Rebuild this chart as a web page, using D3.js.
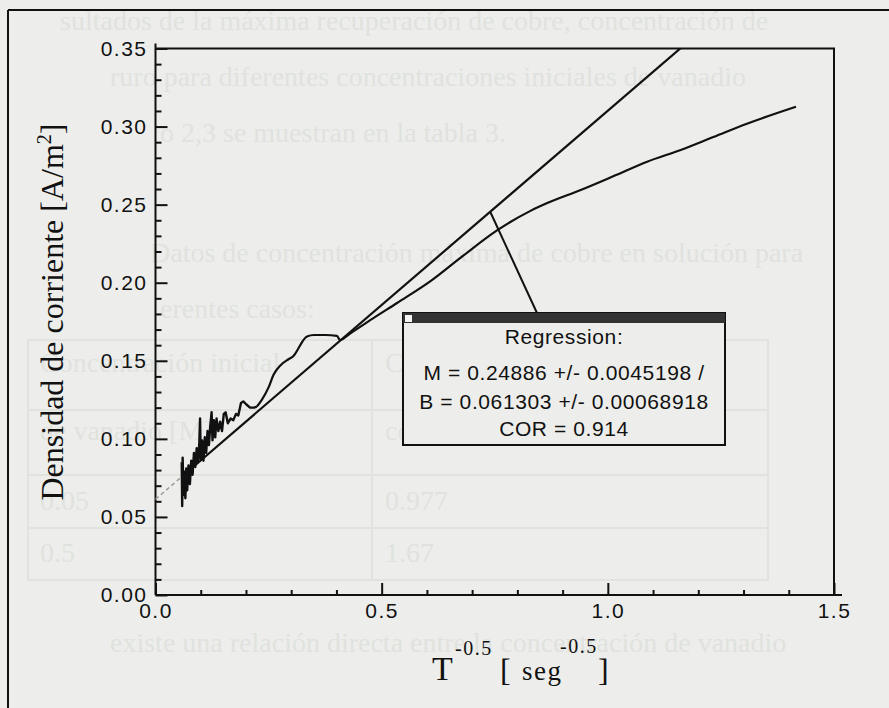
<!DOCTYPE html>
<html>
<head>
<meta charset="utf-8">
<script src="https://cdn.jsdelivr.net/npm/d3@7"></script>
<style>
  body { margin: 0; background: #edeeeb; }
  svg { display: block; }
</style>
</head>
<body>
<script>
// axis ticks
var xMajor = [0, 0.5, 1.0, 1.5];
var xMinor = [0.1, 0.2, 0.3, 0.4, 0.6, 0.7, 0.8, 0.9, 1.1, 1.2, 1.3, 1.4];
var yMajor = [0, 0.05, 0.10, 0.15, 0.20, 0.25, 0.30, 0.35];
var yMinor = [0.01, 0.02, 0.03, 0.04, 0.06, 0.07, 0.08, 0.09, 0.11, 0.12, 0.13, 0.14,
              0.16, 0.17, 0.18, 0.19, 0.21, 0.22, 0.23, 0.24, 0.26, 0.27, 0.28, 0.29,
              0.31, 0.32, 0.33, 0.34];

// measured curve: T^-0.5 vs densidad de corriente (noisy start)
var densidadInicio = [
  [0.058,0.085],[0.059,0.057],[0.060,0.088],[0.062,0.064],[0.064,0.079],[0.066,0.062],
  [0.068,0.081],[0.070,0.067],[0.073,0.083],[0.076,0.071],[0.079,0.086],[0.082,0.077],
  [0.085,0.091],[0.088,0.082],[0.091,0.094],[0.094,0.085],[0.097,0.098],[0.0985,0.113],
  [0.100,0.087],[0.103,0.099],[0.106,0.086],[0.109,0.101],[0.112,0.091],[0.115,0.105],
  [0.118,0.096],[0.121,0.108],[0.124,0.117],[0.126,0.099],[0.129,0.112],[0.132,0.101],
  [0.135,0.113],[0.139,0.105],[0.143,0.111],[0.147,0.105],[0.151,0.116],[0.155,0.117],
  [0.160,0.110],[0.166,0.113],[0.172,0.112],[0.178,0.116],[0.183,0.115],[0.189,0.123],
  [0.194,0.124],[0.201,0.122],[0.209,0.120],[0.218,0.120],[0.224,0.1206]
];
// smoother remainder of the same curve
var densidadFinal = [
  [0.224,0.1206],[0.235,0.125],[0.250,0.133],[0.261,0.141],[0.276,0.147],[0.294,0.151],
  [0.305,0.153],[0.316,0.158],[0.324,0.162],[0.335,0.1655],[0.350,0.1665],[0.375,0.1665],
  [0.401,0.166],[0.408,0.1633],[0.431,0.1676],[0.480,0.177],[0.534,0.187],[0.608,0.201],
  [0.681,0.2175],[0.755,0.2335],[0.829,0.246],[0.866,0.251],[0.940,0.2594],[1.013,0.2683],
  [1.087,0.2775],[1.161,0.285],[1.235,0.2935],[1.309,0.302],[1.416,0.3127]
];

// regression from the legend box
var regM = 0.24886, regB = 0.061303;
var regStart = [0, 0.06];      // dashed part, solid part starts at 0.06
var regEnd = 1.2;
var calloutX = 0.74;

var legendLines = [
  "Regression:",
  "M = 0.24886 +/- 0.0045198 /",
  "B = 0.061303 +/- 0.00068918",
  "COR = 0.914"
];

// bleed-through text from the scanned page
var pageLines = [
  {t: "sultados de la máxima recuperación de cobre, concentración de", x: 60, y: 30},
  {t: "ruro para diferentes concentraciones iniciales de vanadio", x: 110, y: 86},
  {t: "o 2,3 se muestran en la tabla 3.", x: 160, y: 142},
  {t: "Datos de concentración máxima de cobre en solución para", x: 150, y: 262},
  {t: "erentes casos:", x: 160, y: 318},
  {t: "Concentración inicial", x: 40, y: 372},
  {t: "Concentración máxima de", x: 385, y: 372},
  {t: "de vanadio [M]", x: 40, y: 440},
  {t: "cobre disuelto [M]", x: 385, y: 440},
  {t: "0.05", x: 40, y: 510},
  {t: "0.977", x: 385, y: 510},
  {t: "0.5", x: 40, y: 562},
  {t: "1.67", x: 385, y: 562},
  {t: "existe una relación directa entre la concentración de vanadio", x: 110, y: 652}
];

var W = 889, H = 708;
var svg = d3.select("body").append("svg").attr("width", W).attr("height", H);
svg.append("rect").attr("width", W).attr("height", H).attr("fill", "#edeeeb");

// faint page text
svg.append("g").selectAll("text").data(pageLines).enter().append("text")
  .attr("x", function(d) { return d.x; })
  .attr("y", function(d) { return d.y; })
  .attr("font-family", "Liberation Serif, Times New Roman, serif")
  .attr("font-size", 28)
  .attr("fill", "#e0e2de")
  .text(function(d) { return d.t; });

// faint table lines
var tg = svg.append("g").attr("stroke", "#e1e3df").attr("stroke-width", 2).attr("fill", "none");
tg.append("rect").attr("x", 28).attr("y", 340).attr("width", 740).attr("height", 240);
tg.append("line").attr("x1", 372).attr("x2", 372).attr("y1", 340).attr("y2", 580);
[410, 475, 528].forEach(function(yy) {
  tg.append("line").attr("x1", 28).attr("x2", 768).attr("y1", yy).attr("y2", yy);
});

// outer frame of the figure
svg.append("line").attr("x1", 8).attr("x2", W).attr("y1", 10).attr("y2", 10)
  .attr("stroke", "#111").attr("stroke-width", 2);
svg.append("line").attr("x1", 8).attr("x2", 8).attr("y1", 10).attr("y2", H)
  .attr("stroke", "#111").attr("stroke-width", 2);

// scales
var x = d3.scaleLinear().domain([0, 1.5]).range([155.5, 834]);
var y = d3.scaleLinear().domain([0, 0.35]).range([595, 48.5]);

svg.append("clipPath").attr("id", "plot").append("rect")
  .attr("x", x(0)).attr("y", y(0.35)).attr("width", x(1.5) - x(0)).attr("height", y(0) - y(0.35));

// plot frame (top + right)
svg.append("path")
  .attr("d", "M" + x(0) + "," + y(0.35) + "H" + x(1.5) + "V" + y(0))
  .attr("fill", "none").attr("stroke", "#111").attr("stroke-width", 2);

var tickFont = "Liberation Sans, Arial, sans-serif";

// x axis
var gx = svg.append("g").attr("transform", "translate(0," + y(0) + ")");
gx.call(d3.axisBottom(x).tickValues(xMinor).tickSize(-5).tickSizeOuter(0).tickFormat(""));
gx.append("g").call(d3.axisBottom(x).tickValues(xMajor).tickSize(-12).tickSizeOuter(0)
  .tickPadding(8).tickFormat(d3.format(".1f")));
gx.append("line").attr("x1", x(0)).attr("x2", x(1.5) + 8).attr("stroke", "#111").attr("stroke-width", 2);

// y axis
var gy = svg.append("g").attr("transform", "translate(" + x(0) + ",0)");
gy.call(d3.axisLeft(y).tickValues(yMinor).tickSize(-6).tickSizeOuter(0).tickFormat(""));
gy.append("g").call(d3.axisLeft(y).tickValues(yMajor).tickSize(-12).tickSizeOuter(0)
  .tickPadding(8).tickFormat(d3.format(".2f")));
gy.append("line").attr("y1", y(0)).attr("y2", y(0.35) - 5).attr("stroke", "#111").attr("stroke-width", 2);

svg.selectAll(".domain").remove();
svg.selectAll(".tick line").attr("stroke", "#111").attr("stroke-width", 2);
svg.selectAll(".tick text")
  .attr("font-family", tickFont).attr("font-size", 21).attr("letter-spacing", 1.5)
  .attr("fill", "#111");

// regression line
var regFn = function(v) { return regB + regM * v; };
svg.append("line")
  .attr("x1", x(regStart[0])).attr("y1", y(regFn(regStart[0])))
  .attr("x2", x(regStart[1])).attr("y2", y(regFn(regStart[1])))
  .attr("stroke", "#9a9c98").attr("stroke-width", 1.5).attr("stroke-dasharray", "4,3");
svg.append("line")
  .attr("clip-path", "url(#plot)")
  .attr("x1", x(regStart[1])).attr("y1", y(regFn(regStart[1])))
  .attr("x2", x(regEnd)).attr("y2", y(regFn(regEnd)))
  .attr("stroke", "#111").attr("stroke-width", 2.2);

// measured curve
var line = d3.line()
  .x(function(d) { return x(d[0]); })
  .y(function(d) { return y(d[1]); });
svg.append("path").datum(densidadInicio)
  .attr("d", line)
  .attr("fill", "none").attr("stroke", "#111").attr("stroke-width", 2.4)
  .attr("stroke-linejoin", "round");
svg.append("path").datum(densidadFinal)
  .attr("d", line.curve(d3.curveMonotoneX))
  .attr("fill", "none").attr("stroke", "#111").attr("stroke-width", 2.2)
  .attr("stroke-linejoin", "round");

// regression label box
var box = {x: 403, y: 313, w: 322, h: 132};
svg.append("line")
  .attr("x1", x(calloutX)).attr("y1", y(regFn(calloutX)))
  .attr("x2", box.x + 134).attr("y2", box.y)
  .attr("stroke", "#111").attr("stroke-width", 2);
svg.append("rect").attr("x", box.x).attr("y", box.y).attr("width", box.w).attr("height", box.h)
  .attr("fill", "#edeeeb").attr("stroke", "#111").attr("stroke-width", 2);
svg.append("rect").attr("x", box.x).attr("y", box.y).attr("width", box.w).attr("height", 10)
  .attr("fill", "#333");
svg.append("rect").attr("x", box.x + 2).attr("y", box.y + 2).attr("width", 7).attr("height", 7)
  .attr("fill", "#f4f4f2");
var legY = [344, 380, 409, 436];
svg.append("g").selectAll("text").data(legendLines).enter().append("text")
  .attr("x", box.x + box.w / 2)
  .attr("y", function(d, i) { return legY[i]; })
  .attr("text-anchor", "middle")
  .attr("font-family", tickFont).attr("font-size", 21).attr("letter-spacing", 0.6)
  .attr("fill", "#111")
  .text(function(d) { return d; });

// axis titles
var serif = "Liberation Serif, Times New Roman, serif";
var yl = svg.append("text")
  .attr("transform", "translate(63,312) rotate(-90)")
  .attr("text-anchor", "middle")
  .attr("font-family", serif).attr("font-size", 32).attr("fill", "#111");
yl.append("tspan").text("Densidad de corriente [A/m");
yl.append("tspan").attr("dy", -12).attr("font-size", 20).text("2");
yl.append("tspan").attr("dy", 12).text("]");

var xt = svg.append("g").attr("font-family", serif).attr("fill", "#111");
xt.append("text").attr("x", 432).attr("y", 680).attr("font-size", 34).text("T");
xt.append("text").attr("x", 455).attr("y", 655).attr("font-size", 20).attr("letter-spacing", 1.5).text("-0.5");
xt.append("text").attr("x", 500).attr("y", 681).attr("font-size", 32).text("[");
xt.append("text").attr("x", 522).attr("y", 680).attr("font-size", 27).attr("letter-spacing", 1.5).text("seg");
xt.append("text").attr("x", 560).attr("y", 653).attr("font-size", 20).attr("letter-spacing", 1.5).text("-0.5");
xt.append("text").attr("x", 598).attr("y", 681).attr("font-size", 32).text("]");
</script>
</body>
</html>
